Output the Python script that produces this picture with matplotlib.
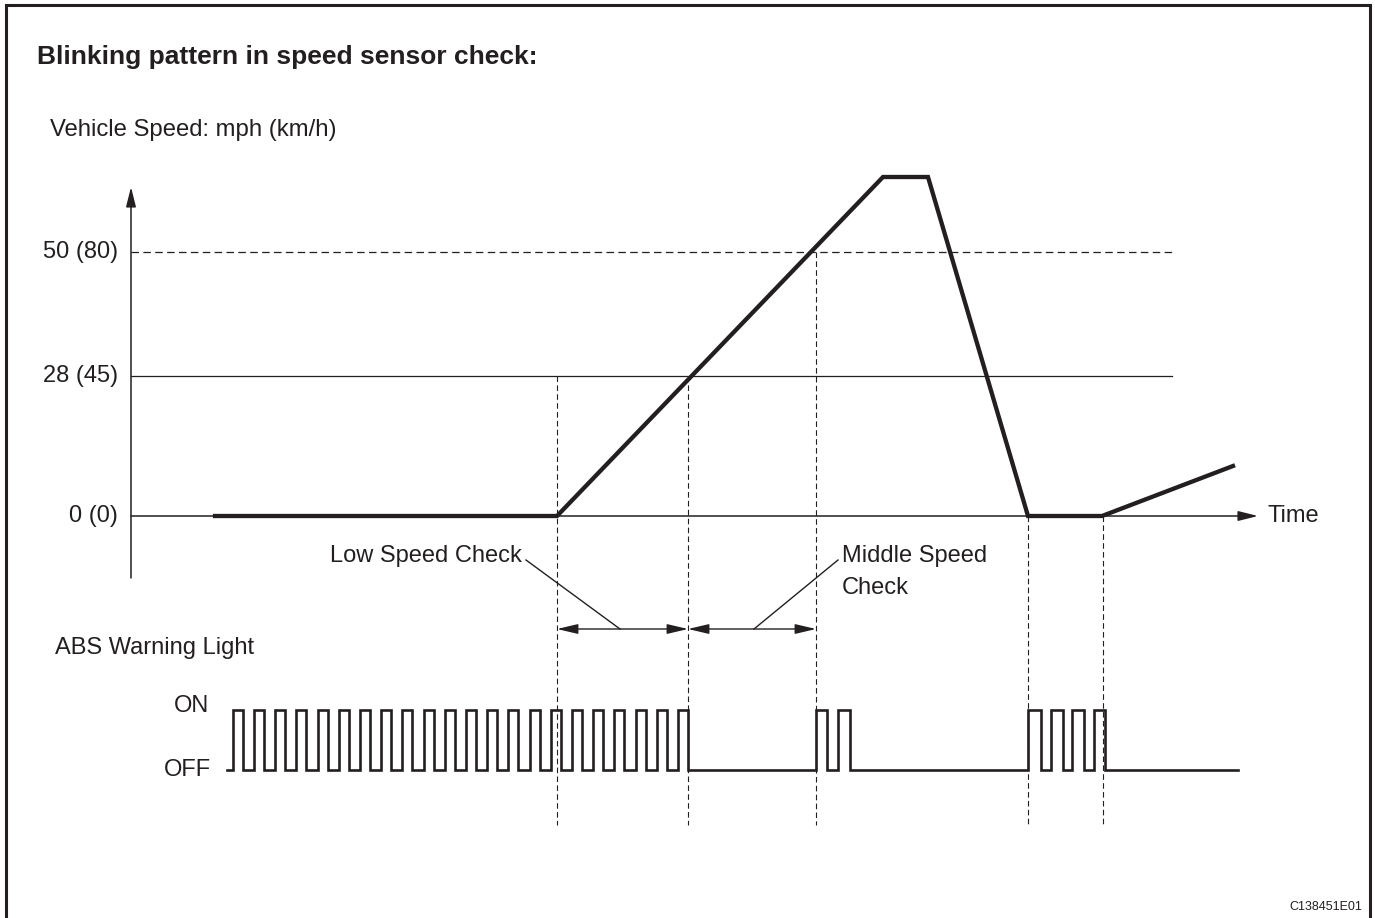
import matplotlib.pyplot as plt

plt.rcParams['font.family'] = ['Liberation Sans', 'DejaVu Sans']

INK = '#231f20'

# vehicle speed trace (time position, diagram level)
speed_time = [215, 557, 883, 928, 1028, 1102, 1233]
speed_level = [516, 516, 177, 177, 516, 516, 466]

# reference speed levels
level_labels = ['50 (80)', '28 (45)', '0 (0)']
level_y = [252, 376, 516]
level_style = ['--', '-', '-']

# check boundaries (time) and where their dashed guide starts
check_x = [557, 688, 816, 1028, 1103]
check_top = [376, 376, 252, 516, 516]

# ABS warning light edges
light_start, light_end = 227, 1238
light_on, light_off = 710, 770
rise_times = [233, 254, 275, 296, 318, 339, 360, 381, 402, 424, 445,
              466, 487, 508, 530, 551, 572, 593, 614, 636, 657, 678,
              816, 838,
              1028, 1051, 1072, 1094]
fall_times = [243, 264, 285, 306, 328, 349, 370, 391, 412, 434, 455,
              476, 497, 518, 540, 561, 582, 603, 624, 646, 667, 688,
              827, 850,
              1041, 1063, 1084, 1105]

fig = plt.figure(figsize=(13.75, 9.18), dpi=100)
ax = fig.add_axes([0, 0, 1, 1])
ax.set_xlim(0, 1375)
ax.set_ylim(918, 0)
ax.axis('off')

# frame (open at bottom)
ax.plot([6.5, 6.5, 1370, 1370], [918, 5, 5, 918], color=INK, lw=2.2,
        solid_joinstyle='miter')

ax.text(37, 57, 'Blinking pattern in speed sensor check:', fontsize=19,
        fontweight='bold', color=INK, va='center', ha='left')
ax.text(50, 130, 'Vehicle Speed: mph (km/h)', fontsize=17.2, color=INK,
        va='center', ha='left')

# axes arrows
ax.annotate('', xy=(131, 187), xytext=(131, 578),
            arrowprops=dict(arrowstyle='-|>,head_length=0.8,head_width=0.2',
                            mutation_scale=15, lw=1.1, color=INK,
                            shrinkA=0, shrinkB=0))
ax.annotate('', xy=(1258, 516), xytext=(131, 516),
            arrowprops=dict(arrowstyle='-|>,head_length=0.8,head_width=0.2',
                            mutation_scale=15, lw=1.1, color=INK,
                            shrinkA=0, shrinkB=0))
ax.text(1268, 516, 'Time', fontsize=17, color=INK, va='center', ha='left')

for lab, y, ls in zip(level_labels, level_y, level_style):
    if y != 516:
        ax.plot([131, 1172], [y, y], color=INK, lw=0.9, ls=ls,
                dashes=(6, 3.5) if ls == '--' else (None, None))
    ax.text(118, y, lab, fontsize=17, color=INK, va='center', ha='right')

for x, top in zip(check_x, check_top):
    ax.plot([x, x], [top, 825], color=INK, lw=0.8, ls='--', dashes=(5, 3))

ax.plot(speed_time, speed_level, color=INK, lw=3.1, solid_joinstyle='miter')

# check span arrows and leaders
arrow_y = 629
for x0, x1 in [(check_x[0], check_x[1]), (check_x[1], check_x[2])]:
    ax.annotate('', xy=(x1, arrow_y), xytext=(x0, arrow_y),
                arrowprops=dict(arrowstyle='<|-|>,head_length=0.85,head_width=0.2',
                                mutation_scale=15, lw=1.0, color=INK,
                                shrinkA=0, shrinkB=0))
ax.plot([526, 620], [560, arrow_y], color=INK, lw=1.0)
ax.plot([754, 838], [arrow_y, 560], color=INK, lw=1.0)
ax.text(522, 556, 'Low Speed Check', fontsize=17, color=INK, va='center',
        ha='right')
ax.text(842, 572, 'Middle Speed\nCheck', fontsize=17, color=INK,
        va='center', ha='left', linespacing=1.55)

# ABS warning light
ax.text(55, 648, 'ABS Warning Light', fontsize=17, color=INK, va='center',
        ha='left')
ax.text(209, 706, 'ON', fontsize=17, color=INK, va='center', ha='right')
ax.text(211, 770, 'OFF', fontsize=17, color=INK, va='center', ha='right')

px = [light_start]
py = [light_off]
for r, f in zip(rise_times, fall_times):
    px += [r, r, f, f]
    py += [light_off, light_on, light_on, light_off]
px.append(light_end)
py.append(light_off)
ax.plot(px, py, color=INK, lw=1.9, solid_joinstyle='miter')

ax.text(1362, 907, 'C138451E01', fontsize=9, color=INK, va='center',
        ha='right')

fig.savefig('out.png', dpi=100)
